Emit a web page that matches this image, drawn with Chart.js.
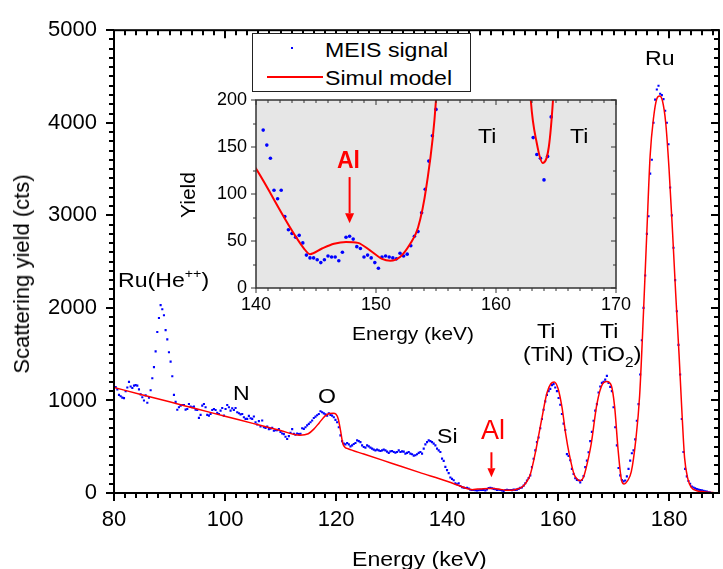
<!DOCTYPE html>
<html>
<head>
<meta charset="utf-8">
<title>MEIS spectrum</title>
<script src="https://cdn.jsdelivr.net/npm/chart.js@4.4.1/dist/chart.umd.min.js"></script>
<style>
  html, body { margin: 0; padding: 0; background: #fff; }
  #wrap { position: relative; width: 723px; height: 569px; overflow: hidden;
          font-family: "Liberation Sans", Arial, sans-serif; color: #000; }
  #wrap canvas { position: absolute; left: 0; top: 0; }
  .lbl { position: absolute; white-space: nowrap; line-height: 1; font-size: 21px; }
  .sx { transform: scaleX(1.1); transform-origin: 0 0; }
  .red { color: #ff0000; }
  .rot { transform: translate(-50%, -50%) rotate(-90deg); }
  sup { font-size: 13px; vertical-align: 9px; line-height: 0; }
  sub { font-size: 14px; vertical-align: -6px; line-height: 0; }
  #legend { position: absolute; left: 252px; top: 33px; width: 219px; height: 59px;
            box-sizing: border-box; border: 1px solid #222; background: #fff; }
</style>
</head>
<body>
<div id="wrap">
  <canvas id="mainChart" width="723" height="569"></canvas>
  <canvas id="insetChart" width="723" height="569"></canvas>

  <div id="legend"></div>
  <div style="position:absolute;left:291px;top:47px;width:2px;height:2px;background:#0000ff"></div>
  <div style="position:absolute;left:267px;top:76px;width:56px;height:2px;background:#ff0000"></div>
  <div class="lbl sx" style="left:325px;top:39px">MEIS signal</div>
  <div class="lbl sx" style="left:325px;top:67px">Simul model</div>

  <div class="lbl sx" style="left:118px;top:269px">Ru(He<sup>++</sup>)</div>
  <div class="lbl sx" style="left:233px;top:382px">N</div>
  <div class="lbl sx" style="left:318px;top:385px">O</div>
  <div class="lbl sx" style="left:437px;top:425px">Si</div>
  <div class="lbl red" style="left:481px;top:417px;font-size:27px">Al</div>
  <div class="lbl sx" style="left:537px;top:320px">Ti</div>
  <div class="lbl sx" style="left:523px;top:343px">(TiN)</div>
  <div class="lbl sx" style="left:600px;top:320px">Ti</div>
  <div class="lbl sx" style="left:581px;top:343px">(TiO<sub>2</sub>)</div>
  <div class="lbl sx" style="left:645px;top:47px">Ru</div>

  <div class="lbl red" style="left:337px;top:149px;font-size:23px;font-weight:bold">Al</div>
  <div class="lbl sx" style="left:478px;top:125px">Ti</div>
  <div class="lbl sx" style="left:570px;top:125px">Ti</div>
  <div class="lbl rot" style="left:187px;top:195px;font-size:21px">Yield</div>
  <div class="lbl sx" style="left:352px;top:324px;font-size:19px">Energy (keV)</div>

  <div class="lbl sx" style="left:352px;top:548px;font-size:21px">Energy (keV)</div>
  <div class="lbl rot" style="left:22px;top:274px;font-size:22px">Scattering yield (cts)</div>
</div>

<script>
// MEIS signal, one point every 0.3 keV starting at 80 keV
const startEnergy = 80;
const energyStep = 0.3;
const meisYield = [
  // 80.0 - 91.7
  1140, 1145, 1120, 1060, 1045, 1030, 1025, 1100, 1140, 1200,
  1150, 1135, 1160, 1165, 1160, 1120, 1065, 1035, 1000, 1055,
  975, 1030, 1110, 1240, 1360, 1530, 1740, 1890, 2030, 1985,
  1920, 1760, 1660, 1520, 1420, 1262, 1060, 985, 900, 926,
  // 92.0 - 103.7
  944, 951, 951, 901, 908, 962, 933, 926, 933, 901,
  897, 812, 844, 944, 962, 926, 844, 836, 854, 897,
  908, 897, 865, 854, 890, 919, 836, 908, 951, 926,
  890, 915, 897, 919, 872, 862, 850, 854, 819, 801,
  // 104.0 - 113.3
  801, 833, 808, 801, 826, 765, 740, 776, 719, 783,
  711, 704, 719, 690, 694, 704, 672, 679, 679, 690,
  661, 643, 636, 608, 583, 615, 650, 690, 640, 630,
  643, 636,
  // 113.6 - 117.8
  640, 700, 693, 711, 730, 747, 765, 783, 810, 825, 840, 854, 883, 872, 860,
  // 118.1 - 131.0
  850, 836, 861, 843, 836, 818, 790, 765, 711, 622,
  561, 533, 525, 540, 525, 504, 515, 530, 540, 568,
  560, 550, 515, 497, 490, 515, 504, 490, 479, 468,
  461, 468, 461, 454, 461, 468, 461, 447, 433, 450,
  454, 443, 436, 443,
  // 131.3 - 142.4
  461, 443, 450, 447, 425, 433, 443, 425, 418, 404,
  408, 418, 433, 443, 425, 479, 525, 550, 568, 561,
  550, 533, 515, 479, 461, 443, 372, 347, 282, 247,
  215, 168, 152, 138, 104, 95, 104, 76,
  // 142.7 - 155.0
  62, 58, 54, 56, 48, 35, 32, 32, 30, 27,
  30, 34, 33, 33, 29, 38, 54, 55, 52, 44,
  42, 33, 35, 32, 27, 21, 33, 34, 33, 32,
  31, 37, 34, 36, 45, 55, 60, 80, 105, 135,
  162, 190,
  // 155.3 - 174.8
  280, 370, 460, 550, 600, 700, 800, 900, 990, 1060,
  1100, 1125, 1165, 1176, 1140, 1100, 1026, 954, 854, 750,
  680, 420, 400, 354, 260, 205, 160, 142, 138, 115,
  140, 182, 280, 350, 440, 560, 660, 780, 890, 960,
  1086, 1150, 1190, 1200, 1225, 1265, 1190, 1147, 1100, 926,
  711, 515, 270, 190, 140, 125, 135, 180, 260, 350,
  430, 460, 580, 780, 960, 1280,
  // 175.1 - 187.4
  1650, 2000, 2350, 2800, 2990, 3450, 3600, 4000, 4250, 4360,
  4400, 4313, 4299, 4256, 4130, 4000, 3768, 3300, 3000, 2650,
  2300, 1964, 1600, 1280, 800, 443, 260, 180, 130, 100,
  70, 60, 50, 42, 36, 32, 29, 25, 18, 15,
  8, 5
];

// simulated spectrum
const modelEnergy = [
  80, 85, 90, 95, 100, 105, 110, 113.5, 115, 116, 117, 118,
  118.8, 119.5, 120, 120.4, 120.8, 121.2, 121.6, 122, 125, 130,
  135, 140, 144, 144.5, 145.5, 146.5, 147.5, 148.5, 149.5, 150.5,
  151.2, 152, 152.8, 153.5, 154.2, 155, 156, 157, 158, 158.7,
  159.3, 160, 160.7, 161.4, 162, 162.9, 163.4, 163.9, 164.4, 164.75,
  165.3, 166, 167, 168, 168.8, 169.6, 170.2, 170.8, 171.4, 171.9,
  172.5, 173.2, 174, 174.7, 175.4, 176, 176.6, 177.2, 177.8, 178.3,
  178.8, 179.4, 180, 180.6, 181.2, 181.8, 182.3, 182.8, 183.4, 184,
  185, 186, 187, 188
];
const modelYield = [
  1140, 1062, 985, 907, 830, 752, 675, 625, 640, 690, 760, 830,
  858, 862, 850, 800, 680, 540, 495, 482, 421, 322,
  223, 127, 42, 36, 42, 47, 49, 48, 40, 31,
  29, 33, 46, 64, 108, 200, 461, 780, 1080, 1180,
  1200, 1130, 930, 630, 425, 200, 154, 133, 150, 200,
  330, 540, 960, 1176, 1204, 1160, 930, 480, 150, 96,
  130, 230, 568, 1050, 1958, 2820, 3650, 4050, 4260, 4290,
  4240, 4000, 3500, 2855, 2150, 1500, 900, 380, 150, 60,
  25, 15, 8, 5
];

const fontFamily = "'Liberation Sans', Arial, sans-serif";
Chart.defaults.font.family = fontFamily;
Chart.defaults.color = '#000';

const meisPoints = meisYield.map((v, i) => ({ x: +(startEnergy + i * energyStep).toFixed(2), y: v }));
const modelPoints = modelEnergy.map((e, i) => ({ x: e, y: modelYield[i] }));

// box, minor and major ticks (bottom/left outwards, top/right inwards)
const framePlugin = {
  id: 'frame',
  beforeDatasetsDraw(chart, args, opts) {
    if (!opts.background) return;
    const a = chart.chartArea;
    chart.ctx.save();
    chart.ctx.fillStyle = opts.background;
    chart.ctx.fillRect(a.left, a.top, a.right - a.left, a.bottom - a.top);
    chart.ctx.restore();
  },
  afterDatasetsDraw(chart, args, opts) {
    const { ctx, chartArea: a, scales: { x, y } } = chart;
    ctx.save();
    ctx.strokeStyle = opts.color;
    ctx.lineWidth = opts.tickWidth;
    ctx.beginPath();
    for (let v = x.min; v <= x.max + 1e-9; v += opts.xMinor) {
      const px = Math.round(x.getPixelForValue(v));
      const major = Math.abs(v / opts.xMajor - Math.round(v / opts.xMajor)) < 1e-6;
      const len = major ? opts.major : opts.minor;
      ctx.moveTo(px, a.bottom); ctx.lineTo(px, a.bottom + len);
      ctx.moveTo(px, a.top); ctx.lineTo(px, a.top + len);
    }
    for (let v = y.min; v <= y.max + 1e-9; v += opts.yMinor) {
      const py = Math.round(y.getPixelForValue(v));
      const major = Math.abs(v / opts.yMajor - Math.round(v / opts.yMajor)) < 1e-6;
      const len = major ? opts.major : opts.minor;
      ctx.moveTo(a.left, py); ctx.lineTo(a.left - len, py);
      ctx.moveTo(a.right, py); ctx.lineTo(a.right - len, py);
    }
    ctx.stroke();
    ctx.lineWidth = opts.borderWidth;
    ctx.strokeRect(a.left, a.top, a.right - a.left, a.bottom - a.top);
    ctx.restore();
  }
};

// red arrows pointing at the Al signal
const arrowPlugin = {
  id: 'arrows',
  afterDatasetsDraw(chart, args, opts) {
    const { ctx, scales: { x, y } } = chart;
    ctx.save();
    ctx.strokeStyle = '#ff0000';
    ctx.fillStyle = '#ff0000';
    ctx.lineWidth = opts.width;
    opts.items.forEach(it => {
      const px = x.getPixelForValue(it.energy);
      const y0 = y.getPixelForValue(it.from);
      const y1 = y.getPixelForValue(it.to);
      ctx.beginPath();
      ctx.moveTo(px, y0);
      ctx.lineTo(px, y1 - opts.head);
      ctx.stroke();
      ctx.beginPath();
      ctx.moveTo(px - opts.half, y1 - opts.head);
      ctx.lineTo(px + opts.half, y1 - opts.head);
      ctx.lineTo(px, y1);
      ctx.closePath();
      ctx.fill();
    });
    ctx.restore();
  }
};

function ejes(min, max, step, size, pad, fit) {
  return {
    type: 'linear', min: min, max: max,
    grid: { display: false, drawTicks: false },
    border: { display: false },
    ticks: { stepSize: step, includeBounds: false, padding: pad, maxRotation: 0,
             color: '#000', font: { size: size }, callback: v => String(v) },
    afterFit: fit
  };
}

// main spectrum
new Chart(document.getElementById('mainChart'), {
  type: 'scatter',
  data: {
    datasets: [
      { label: 'Simul model', data: modelPoints, showLine: true, borderColor: '#ff0000',
        borderWidth: 1.5, pointRadius: 0, cubicInterpolationMode: 'monotone', order: 0 },
      { label: 'MEIS signal', data: meisPoints, backgroundColor: '#0000ff', pointStyle: 'rect',
        pointRadius: 1.5, pointBorderWidth: 0, order: 1 }
    ]
  },
  options: {
    responsive: false, animation: false, devicePixelRatio: 1,
    layout: { padding: { left: 0, top: 26, right: 3, bottom: 0 } },
    plugins: {
      legend: { display: false }, tooltip: { enabled: false },
      frame: { color: '#000', tickWidth: 2, borderWidth: 2, major: 8, minor: 5,
               xMinor: 2, xMajor: 20, yMinor: 100, yMajor: 1000 },
      arrows: { width: 2, head: 9, half: 4, items: [{ energy: 148, from: 440, to: 170 }] }
    },
    scales: {
      x: ejes(80, 189, 20, 22, 14, s => { s.height = 76; }),
      y: ejes(0, 5000, 1000, 22, 17, s => { s.width = 114; })
    }
  },
  plugins: [framePlugin, arrowPlugin]
});

// inset zoom on the Al region
new Chart(document.getElementById('insetChart'), {
  type: 'scatter',
  data: {
    datasets: [
      { label: 'Simul model', data: modelPoints, showLine: true, borderColor: '#ff0000',
        borderWidth: 2, pointRadius: 0, cubicInterpolationMode: 'monotone', order: 0 },
      { label: 'MEIS signal', data: meisPoints, backgroundColor: '#0000ff', pointStyle: 'circle',
        pointRadius: 1.8, pointBorderWidth: 0, order: 1 }
    ]
  },
  options: {
    responsive: false, animation: false, devicePixelRatio: 1,
    layout: { padding: { left: 0, top: 100, right: 107, bottom: 0 } },
    plugins: {
      legend: { display: false }, tooltip: { enabled: false },
      frame: { background: '#e6e6e6', color: '#333', tickWidth: 1, borderWidth: 1.5, major: 5, minor: 3,
               xMinor: 1, xMajor: 10, yMinor: 25, yMajor: 50 },
      arrows: { width: 2, head: 10, half: 4.5, items: [{ energy: 147.8, from: 118, to: 69 }] }
    },
    scales: {
      x: ejes(140, 170, 10, 18, 6, s => { s.height = 281; }),
      y: ejes(0, 200, 50, 18, 9, s => { s.width = 256; })
    }
  },
  plugins: [framePlugin, arrowPlugin]
});
</script>
</body>
</html>
